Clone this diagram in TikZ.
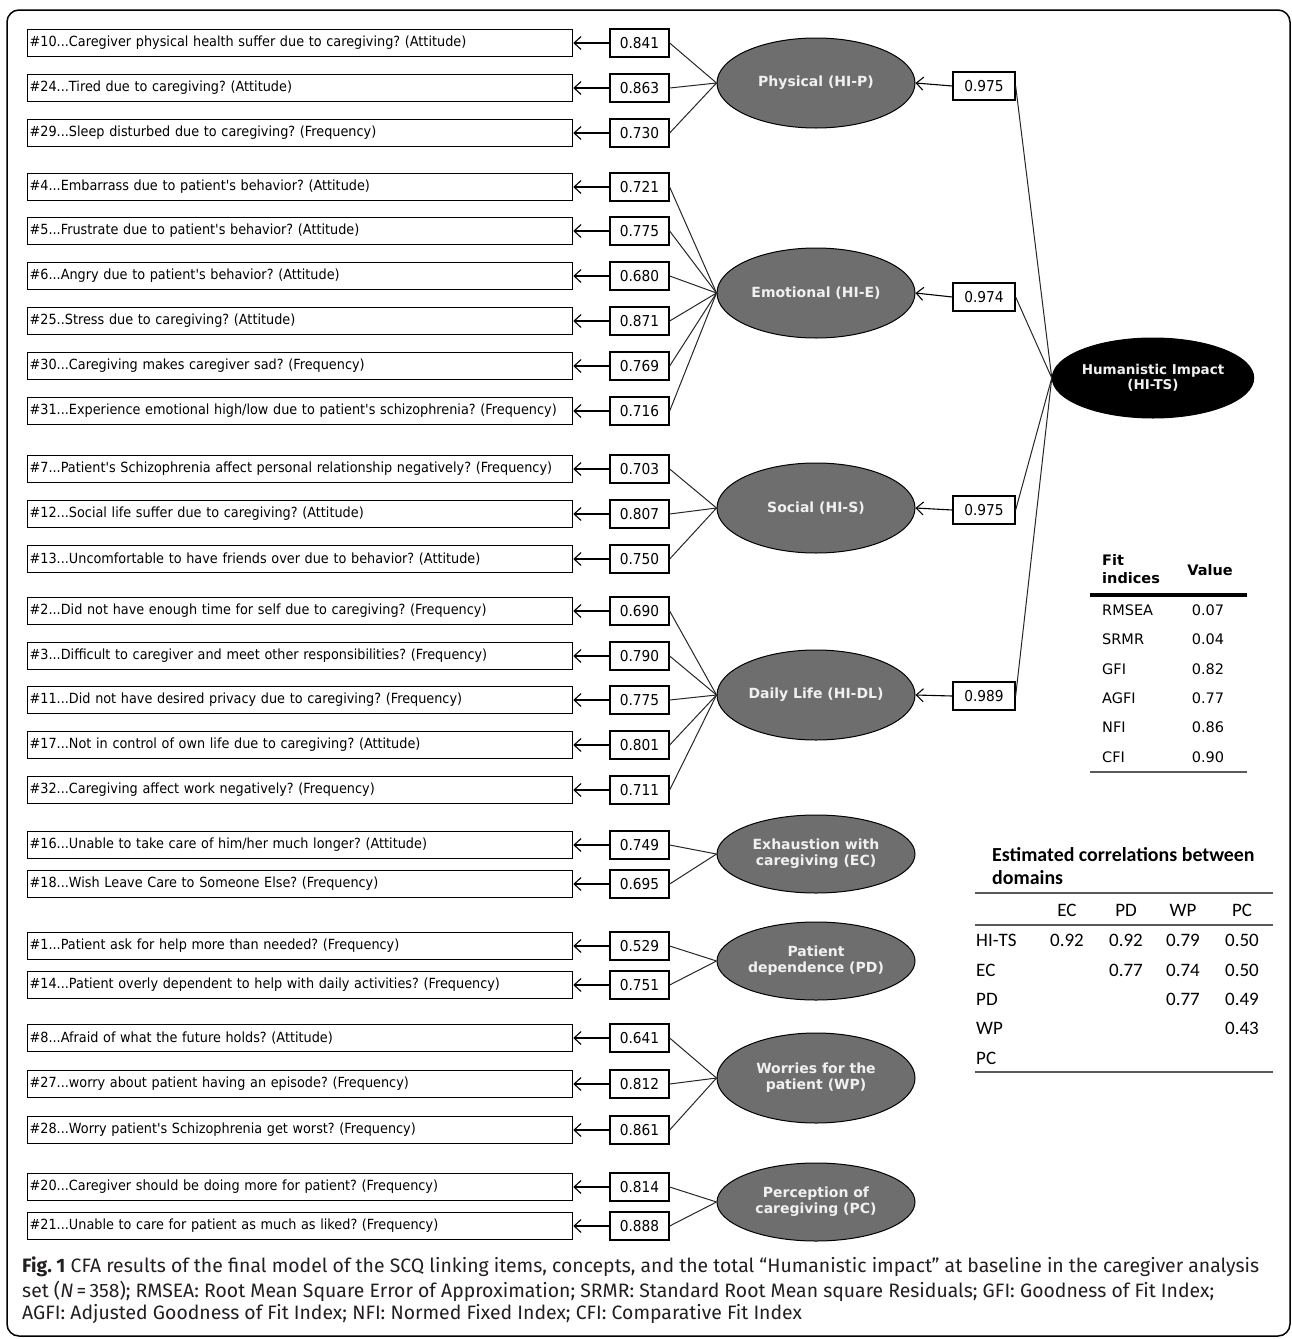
\documentclass[tikz,border=0pt]{standalone}
\usepackage{fontspec}
\setmainfont{DejaVu Sans}
\newfontfamily\itemf[FakeStretch=0.917,Ligatures=TeXOff]{DejaVu Sans}
\newfontfamily\dvf{DejaVu Sans}
\newfontfamily\corrf{Carlito}
\newfontfamily\capf{Fira Sans}
\usetikzlibrary{arrows.meta,shapes.geometric}
\definecolor{latgray}{RGB}{110,110,110}
\definecolor{capgray}{RGB}{35,31,32}
\definecolor{rulegray}{RGB}{90,90,90}
\frenchspacing
\tikzset{
  x=1pt, y=-1pt,
  itembox/.style={draw=black, line width=1.3pt, text width=541pt, minimum height=27pt,
    inner xsep=2pt, inner ysep=0pt, anchor=west, align=left,
    font=\itemf\fontsize{14}{16}\selectfont},
  valbox/.style={draw=black, line width=1.3pt, minimum width=59pt, minimum height=28pt,
    inner sep=0pt, font=\itemf\fontsize{15}{17}\selectfont},
  latent/.style={ellipse, draw=black, line width=1pt, fill=latgray, text=white!94!black,
    minimum width=198pt, minimum height=90pt, inner sep=0pt, align=center,
    font=\dvf\bfseries\fontsize{14}{16}\selectfont},
  arr/.style={line width=1.1pt, -{Straight Barb[length=7pt,width=13pt]}},
  conn/.style={line width=1pt, draw=black!85},
  fitf/.style={font=\dvf\fontsize{14.5}{17}\selectfont, inner sep=0pt},
  fith/.style={font=\dvf\bfseries\fontsize{14.5}{16}\selectfont, inner sep=0pt, align=left},
  corrt/.style={font=\corrf\fontsize{19}{21}\selectfont, inner sep=0pt},
  corrh/.style={font=\corrf\bfseries\fontsize{19.9}{22}\selectfont, inner sep=0pt, anchor=west},
  capl/.style={font=\capf\fontsize{19.4}{24}\selectfont, text=capgray, inner sep=0pt, anchor=west}
}
% #1 name, #2 y, #3 item text, #4 loading, #5 latent name
\newcommand\irow[5]{%
  \node[itembox] (i#1) at (27,#2) {#3};
  \node[valbox] (v#1) at (639.5,#2) {#4};
  \draw[arr] (v#1.west) -- (i#1.east);
  \draw[conn] (v#1.east) -- (#5.west);
}
\begin{document}
\begin{tikzpicture}
\useasboundingbox (0,0) rectangle (1292,1339);
\draw[line width=1.5pt, rounded corners=12pt] (7,10) rectangle (1290,1336);

% latent factors
\node[latent] (P) at (816,83) {Physical (HI-P)};
\node[latent] (E) at (816,293) {Emotional (HI-E)};
\node[latent] (S) at (816,508) {Social (HI-S)};
\node[latent] (DL) at (816,695) {Daily Life (HI-DL)};
\node[latent, minimum height=78pt] (EC) at (816,854) {Exhaustion with\\caregiving (EC)};
\node[latent, minimum height=78pt] (PD) at (816,961) {Patient\\dependence (PD)};
\node[latent] (WP) at (816,1078) {Worries for the\\patient (WP)};
\node[latent, minimum height=78pt] (PC) at (816,1202) {Perception of\\caregiving (PC)};
\node[latent, fill=black, minimum width=200pt, minimum height=80pt,
      font=\dvf\bfseries\fontsize{13.5}{15}\selectfont] (HI) at (1153,378) {Humanistic Impact\\(HI-TS)};

% items
\irow{10}{43}{\#10...Caregiver physical health suffer due to caregiving? (Attitude)}{0.841}{P}
\irow{24}{88}{\#24...Tired due to caregiving? (Attitude)}{0.863}{P}
\irow{29}{133}{\#29...Sleep disturbed due to caregiving? (Frequency)}{0.730}{P}
\irow{4}{187}{\#4...Embarrass due to patient's behavior? (Attitude)}{0.721}{E}
\irow{5}{231}{\#5...Frustrate due to patient's behavior? (Attitude)}{0.775}{E}
\irow{6}{276}{\#6...Angry due to patient's behavior? (Attitude)}{0.680}{E}
\irow{25}{321}{\#25..Stress due to caregiving? (Attitude)}{0.871}{E}
\irow{30}{366}{\#30...Caregiving makes caregiver sad? (Frequency)}{0.769}{E}
\irow{31}{411}{\#31...Experience emotional high/low due to patient's schizophrenia? (Frequency)}{0.716}{E}
\irow{7}{469}{\#7...Patient's Schizophrenia affect personal relationship negatively? (Frequency)}{0.703}{S}
\irow{12}{514}{\#12...Social life suffer due to caregiving? (Attitude)}{0.807}{S}
\irow{13}{559}{\#13...Uncomfortable to have friends over due to behavior? (Attitude)}{0.750}{S}
\irow{2}{611}{\#2...Did not have enough time for self due to caregiving? (Frequency)}{0.690}{DL}
\irow{3}{656}{\#3...Difficult to caregiver and meet other responsibilities? (Frequency)}{0.790}{DL}
\irow{11}{700}{\#11...Did not have desired privacy due to caregiving? (Frequency)}{0.775}{DL}
\irow{17}{745}{\#17...Not in control of own life due to caregiving? (Attitude)}{0.801}{DL}
\irow{32}{790}{\#32...Caregiving affect work negatively? (Frequency)}{0.711}{DL}
\irow{16}{845}{\#16...Unable to take care of him/her much longer? (Attitude)}{0.749}{EC}
\irow{18}{884}{\#18...Wish Leave Care to Someone Else? (Frequency)}{0.695}{EC}
\irow{1}{946}{\#1...Patient ask for help more than needed? (Frequency)}{0.529}{PD}
\irow{14}{985}{\#14...Patient overly dependent to help with daily activities? (Frequency)}{0.751}{PD}
\irow{8}{1038}{\#8...Afraid of what the future holds? (Attitude)}{0.641}{WP}
\irow{27}{1084}{\#27...worry about patient having an episode? (Frequency)}{0.812}{WP}
\irow{28}{1130}{\#28...Worry patient's Schizophrenia get worst? (Frequency)}{0.861}{WP}
\irow{20}{1187}{\#20...Caregiver should be doing more for patient? (Frequency)}{0.814}{PC}
\irow{21}{1226}{\#21...Unable to care for patient as much as liked? (Frequency)}{0.888}{PC}

% second-order loadings
\node[valbox, minimum width=62pt] (gP) at (984,86) {0.975};
\node[valbox, minimum width=62pt] (gE) at (984,297) {0.974};
\node[valbox, minimum width=62pt] (gS) at (984,510) {0.975};
\node[valbox, minimum width=62pt] (gDL) at (984,696) {0.989};
\foreach \g/\l in {gP/P, gE/E, gS/S, gDL/DL}{
  \draw[arr] (\g.west) -- (\l.east);
  \draw[conn] (\g.east) -- (HI.west);
}

% fit indices table
\node[fith, anchor=west] (fit1) at (1102,560) {Fit};
\node[fith, anchor=west] (fit2) at (1102,578) {indices};
\node[fith] (fitv) at (1210,570) {Value};
\draw[line width=3.5pt] (1090,595) -- (1247,595);
\foreach \n/\v [count=\k from 0] in {RMSEA/0.07, SRMR/0.04, GFI/0.82, AGFI/0.77, NFI/0.86, CFI/0.90}{
  \node[fitf, anchor=west] (fl\k) at (1102,{610+29.4*\k}) {\n};
  \node[fitf] (fv\k) at (1208,{610+29.4*\k}) {\v};
}
\draw[line width=1.5pt, draw=rulegray] (1090,772) -- (1247,772);

% correlation table
\node[corrh] (ct1) at (992,855) {Estimated correlations between};
\node[corrh] (ct2) at (992,878) {domains};
\draw[line width=2pt, draw=rulegray] (975,893) -- (1273,893);
\node[corrt] (hEC) at (1067,910) {EC};
\node[corrt] (hPD) at (1126,910) {PD};
\node[corrt] (hWP) at (1183,910) {WP};
\node[corrt] (hPC) at (1242,910) {PC};
\draw[line width=2pt, draw=rulegray] (975,925) -- (1273,925);
\node[corrt, anchor=west] (r1) at (976,940) {HI-TS};
\node[corrt, anchor=west] (r2) at (976,970) {EC};
\node[corrt, anchor=west] (r3) at (976,999) {PD};
\node[corrt, anchor=west] (r4) at (976,1028) {WP};
\node[corrt, anchor=west] (r5) at (976,1058) {PC};
\node[corrt] (c11) at (1067,940) {0.92};
\node[corrt] (c12) at (1126,940) {0.92};
\node[corrt] (c13) at (1183,940) {0.79};
\node[corrt] (c14) at (1242,940) {0.50};
\node[corrt] (c22) at (1126,970) {0.77};
\node[corrt] (c23) at (1183,970) {0.74};
\node[corrt] (c24) at (1242,970) {0.50};
\node[corrt] (c33) at (1183,999) {0.77};
\node[corrt] (c34) at (1242,999) {0.49};
\node[corrt] (c44) at (1242,1028) {0.43};
\draw[line width=2pt, draw=rulegray] (975,1072) -- (1273,1072);

% caption
\node[capl] (cap1) at (22,1267) {\textbf{Fig. 1} CFA results of the final model of the SCQ linking items, concepts, and the total “Humanistic impact” at baseline in the caregiver analysis};
\node[capl] (cap2) at (22,1291) {set (\emph{N}\,=\,358); RMSEA: Root Mean Square Error of Approximation; SRMR: Standard Root Mean square Residuals; GFI: Goodness of Fit Index;};
\node[capl] (cap3) at (22,1314) {AGFI: Adjusted Goodness of Fit Index; NFI: Normed Fixed Index; CFI: Comparative Fit Index};
\end{tikzpicture}
\end{document}
